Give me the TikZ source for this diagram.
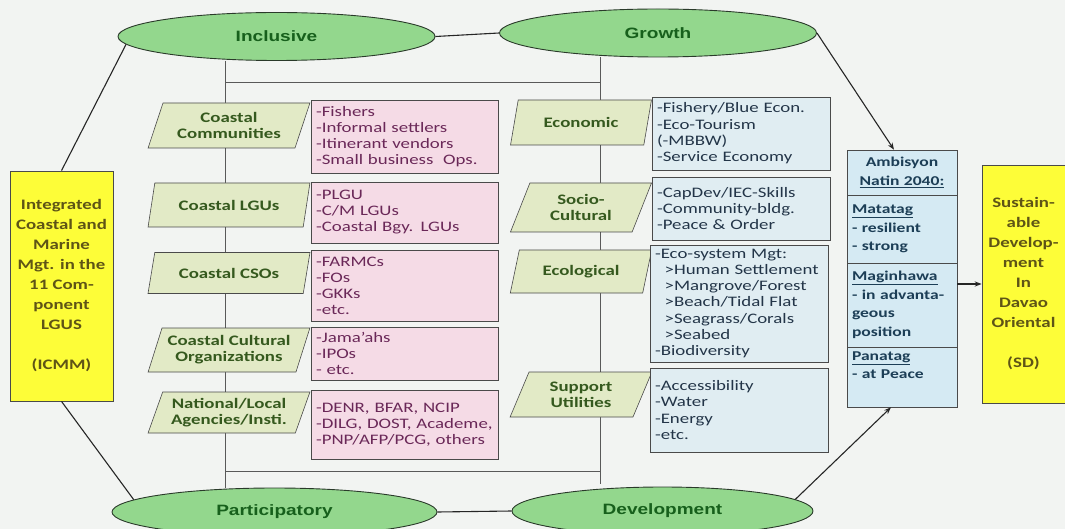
\documentclass[tikz,border=0pt]{standalone}
\usepackage{fontspec}
\setmainfont{Carlito}[FakeStretch=1.3]
\newfontfamily\ovalfont{Liberation Sans}[FakeStretch=1.27]
\usetikzlibrary{shapes.geometric,arrows.meta,backgrounds}
\definecolor{paper}{HTML}{F2F4F2}
\definecolor{ovalfill}{HTML}{93D78D}
\definecolor{ovaltext}{HTML}{17601C}
\definecolor{ovalline}{HTML}{2A3A2A}
\definecolor{secfill}{HTML}{E2EAC6}
\definecolor{sectext}{HTML}{35591E}
\definecolor{pinkfill}{HTML}{F5DBE6}
\definecolor{pinktext}{HTML}{6A2858}
\definecolor{bluefill}{HTML}{E0EDF2}
\definecolor{bluetext}{HTML}{233548}
\definecolor{ambfill}{HTML}{D5EAF3}
\definecolor{ambtext}{HTML}{1C3E56}
\definecolor{yelfill}{HTML}{FDFD38}
\definecolor{yeltext}{HTML}{5E5416}
\definecolor{boxline}{HTML}{4A4A4A}
\begin{document}
\begin{tikzpicture}[x=1pt, y=-1pt,
  oval/.style={ellipse, draw=ovalline, line width=0.9pt, fill=ovalfill, text=ovaltext,
    minimum height=48pt, inner sep=0pt, font=\ovalfont\bfseries\fontsize{15}{18}\selectfont},
  sector/.style={trapezium, trapezium left angle=66, trapezium right angle=114,
    trapezium stretches=true, draw=boxline, line width=0.6pt, fill=secfill, text=sectext,
    inner sep=0pt, align=center, font=\bfseries\fontsize{14.5}{16}\selectfont},
  pinklist/.style={draw=boxline, line width=0.6pt, fill=pinkfill, text=pinktext, align=left,
    text width=177pt, inner xsep=5pt, inner ysep=0pt, font=\fontsize{14.5}{16}\selectfont},
  bluelist/.style={draw=boxline, line width=0.6pt, fill=bluefill, text=bluetext, align=left,
    text width=168pt, inner xsep=5pt, inner ysep=0pt, font=\fontsize{14.5}{16.3}\selectfont},
  amb/.style={draw=boxline, line width=0.6pt, fill=ambfill, text=ambtext, align=left,
    text width=100pt, inner xsep=5pt, inner ysep=0pt, font=\bfseries\fontsize{13.5}{18.5}\selectfont},
  goal/.style={draw=boxline, line width=0.8pt, fill=yelfill, text=yeltext, align=center,
    inner sep=0pt, font=\bfseries\fontsize{14.5}{20}\selectfont},
  link/.style={draw=black!85, line width=1.1pt},
  frame/.style={draw=black!65, line width=0.7pt}]
\useasboundingbox (0,0) rectangle (1065,529);

\node[oval, minimum width=317pt] (inc) at (276.5,36.5) {Inclusive};
\node[oval, minimum width=317pt] (gro) at (658,33) {Growth};
\node[oval, minimum width=325pt] (par) at (274.5,512) {Participatory};
\node[oval, minimum width=301pt] (dev) at (662.5,511) {Development};

\node[goal, minimum width=103pt, minimum height=230pt] (icmm) at (61.5,286)
  {Integrated\\Coastal and\\Marine\\Mgt. in the\\11 Com-\\ponent\\LGUS\\[20pt](ICMM)};

\node[sector, minimum width=162pt, minimum height=45pt] (ccom) at (229,125.5) {Coastal\\Communities};
\node[sector, minimum width=162pt, minimum height=44pt] (clgu) at (229,205) {Coastal LGUs};
\node[sector, minimum width=162pt, minimum height=41pt] (ccso) at (229,273) {Coastal CSOs};
\node[sector, minimum width=162pt, minimum height=44pt] (ccult) at (229,350) {Coastal Cultural\\Organizations};
\node[sector, minimum width=162pt, minimum height=41pt] (nla) at (229,412.5) {National/Local\\Agencies/Insti.};

\node[pinklist, minimum height=73pt] (pcom) at (404.5,136.5)
  {-Fishers\\-Informal settlers\\-Itinerant vendors\\-Small business\ \ Ops.};
\node[pinklist, minimum height=61pt] (plgu) at (404.5,212.5)
  {-PLGU\\-C/M LGUs\\-Coastal Bgy. LGUs};
\node[pinklist, minimum height=71pt] (pcso) at (404.5,285.5)
  {-FARMCs\\-FOs\\-GKKs\\-etc.};
\node[pinklist, minimum height=53pt] (pcult) at (404.5,353.5)
  {-Jama’ahs\\-IPOs\\- etc.};
\node[pinklist, minimum height=69pt] (pnla) at (404.5,424.5)
  {-DENR, BFAR, NCIP\\-DILG, DOST, Academe,\\-PNP/AFP/PCG, others};

\node[sector, minimum width=142pt, minimum height=45pt] (econ) at (581,122.5) {Economic};
\node[sector, minimum width=142pt, minimum height=49pt] (soc) at (581,207.5) {Socio-\\Cultural};
\node[sector, minimum width=142pt, minimum height=43pt] (ecol) at (581,271.5) {Ecological};
\node[sector, minimum width=142pt, minimum height=45pt] (sup) at (581,394.5) {Support\\Utilities};

\node[bluelist, minimum height=73pt] (becon) at (741,133.5)
  {-Fishery/Blue Econ.\\-Eco-Tourism\\(-MBBW)\\-Service Economy};
\node[bluelist, minimum height=63pt] (bsoc) at (741,208.5)
  {-CapDev/IEC-Skills\\-Community-bldg.\\-Peace \& Order};
\node[bluelist, minimum height=117pt] (becol) at (739,303.5)
  {-Eco-system Mgt:\\\ \ >Human Settlement\\\ \ >Mangrove/Forest\\\ \ >Beach/Tidal Flat\\\ \ >Seagrass/Corals\\\ \ >Seabed\\-Biodiversity};
\node[bluelist, minimum height=84pt] (bsup) at (739,410)
  {-Accessibility\\-Water\\-Energy\\-etc.};

\node[amb, minimum height=45pt, align=center] (amb1) at (902,172.5) {Ambisyon\\\underline{Natin 2040:}};
\node[amb, minimum height=68pt] (amb2) at (902,229) {\underline{Matatag}\\- resilient\\- strong};
\node[amb, minimum height=84pt] (amb3) at (902,305) {\underline{Maginhawa}\\- in advanta-\\geous\\position};
\node[amb, minimum height=60pt] (amb4) at (902,377) {\underline{Panatag}\\- at Peace\\\strut};

\node[goal, minimum width=83pt, minimum height=238pt] (sd) at (1023.5,284)
  {Sustain-\\able\\Develop-\\ment\\In\\Davao\\Oriental\\[20pt](SD)};

\draw[link] (inc.east) -- (gro.west);
\draw[link] (par.east) -- (dev.west);
\draw[link] (inc.183) -- (icmm.north);
\draw[link] (icmm.south) -- (par.175);
\draw[link, -{Stealth[length=7pt]}] (gro.east) -- ([xshift=-8pt]amb1.north);
\draw[link, -{Stealth[length=7pt]}] (dev.5) -- ([xshift=-11pt]amb4.south);
\draw[link, -{Stealth[length=7pt]}] (amb3.east |- sd.west) -- (sd.west);

\begin{pgfonlayer}{background}
\fill[paper] (0,0) rectangle (1065,529);
\coordinate (tl) at (225,82);
\coordinate (tr) at (600,82);
\coordinate (bl) at (225,471);
\coordinate (br) at (600,471);
\draw[frame] (inc.south -| tl) -- (par.north -| bl);
\draw[frame] (gro.south -| tr) -- ([yshift=-13pt]br);
\draw[frame] (tl) -- (tr);
\draw[frame] (bl) -- (br);
\end{pgfonlayer}
\end{tikzpicture}
\end{document}
